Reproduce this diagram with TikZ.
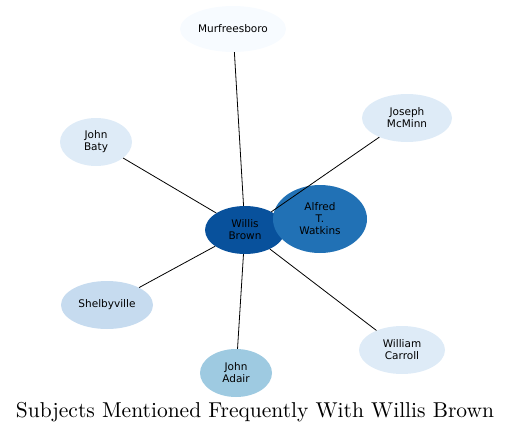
\documentclass[tikz,border=0pt]{standalone}
\usepackage{fontspec}
\usetikzlibrary{shapes.geometric}
\newfontfamily\nodefont{DejaVu Sans}
\definecolor{c0}{HTML}{F7FBFF}
\definecolor{c1}{HTML}{DEEBF7}
\definecolor{c2}{HTML}{C6DBEF}
\definecolor{c3}{HTML}{9ECAE1}
\definecolor{c5}{HTML}{2171B5}
\definecolor{c6}{HTML}{08519C}
\tikzset{
  ent/.style={ellipse, draw=none, inner sep=0pt, align=center,
    font=\nodefont\fontsize{10.5}{12}\selectfont, text=black},
  link/.style={draw=black, line width=0.8pt}
}
\begin{document}
\begin{tikzpicture}[x=1pt,y=-1pt]
\useasboundingbox (0,0) rectangle (512,434);
\node[ent, fill=c0, minimum width=106, minimum height=46] (murf) at (233,29) {Murfreesboro};
\node[ent, fill=c1, minimum width=90, minimum height=48] (jos) at (407,118) {Joseph\\McMinn};
\node[ent, fill=c1, minimum width=72, minimum height=48] (baty) at (96,142) {John\\Baty};
\node[ent, fill=c2, minimum width=92, minimum height=48] (shel) at (107,305) {Shelbyville};
\node[ent, fill=c3, minimum width=72, minimum height=48] (adair) at (236,373) {John\\Adair};
\node[ent, fill=c1, minimum width=86, minimum height=48] (carr) at (402,350) {William\\Carroll};
\node[ent, fill=c6, minimum width=80, minimum height=48] (willis) at (245,230) {Willis\\Brown};
\node[ent, fill=c5, minimum width=94, minimum height=68] (alfred) at (320,219) {Alfred\\T.\\Watkins};
\draw[link] (murf) -- (willis);
\draw[link] (jos) -- (willis);
\draw[link] (baty) -- (willis);
\draw[link] (shel) -- (willis);
\draw[link] (adair) -- (willis);
\draw[link] (carr) -- (willis);
\node[inner sep=0pt] (title) at (255,412) {\scalebox{2.15}{\fontsize{10}{12}\selectfont Subjects Mentioned Frequently With Willis Brown}};
\end{tikzpicture}
\end{document}
